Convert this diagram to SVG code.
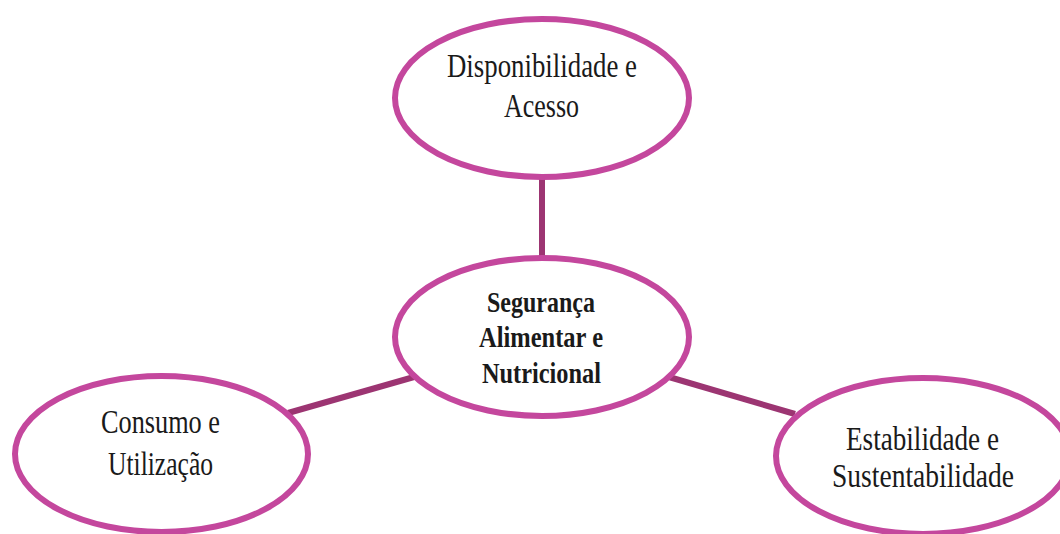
<svg xmlns="http://www.w3.org/2000/svg" width="1060" height="534" viewBox="0 0 1060 534">
<style>
.node ellipse{fill:#fff;stroke:#C4479D;stroke-width:6}
.conn line{stroke:#9C3572;stroke-width:6}
text{font-family:"Liberation Serif","DejaVu Serif",serif;fill:#1a1a1a;text-anchor:middle;font-size:33px}
.b{font-weight:bold;font-size:30px}
</style>
<rect width="1060" height="534" fill="#fff"/>
<g id="connectors" class="conn">
<line x1="542" y1="176" x2="542" y2="259"/>
<line x1="288" y1="413" x2="414" y2="377"/>
<line x1="669" y1="377" x2="795" y2="414"/>
</g>
<g id="n-disponibilidade" class="node">
<ellipse cx="542" cy="98" rx="147" ry="79"/>
<text x="542" y="77" textLength="190" lengthAdjust="spacingAndGlyphs">Disponibilidade e</text>
<text x="541.5" y="117" textLength="75" lengthAdjust="spacingAndGlyphs">Acesso</text>
</g>
<g id="n-seguranca" class="node">
<ellipse cx="542" cy="337" rx="147" ry="79"/>
<text class="b" x="541" y="312" textLength="108" lengthAdjust="spacingAndGlyphs">Segurança</text>
<text class="b" x="541" y="347" textLength="124" lengthAdjust="spacingAndGlyphs">Alimentar e</text>
<text class="b" x="541.5" y="383" textLength="119" lengthAdjust="spacingAndGlyphs">Nutricional</text>
</g>
<g id="n-consumo" class="node">
<ellipse cx="161.5" cy="454" rx="146.5" ry="78"/>
<text x="160.5" y="433" textLength="119" lengthAdjust="spacingAndGlyphs">Consumo e</text>
<text x="160.5" y="475" textLength="105" lengthAdjust="spacingAndGlyphs">Utilização</text>
</g>
<g id="n-estabilidade" class="node">
<ellipse cx="923" cy="456" rx="147" ry="78"/>
<text x="922.5" y="450" textLength="153" lengthAdjust="spacingAndGlyphs">Estabilidade e</text>
<text x="923" y="487" textLength="182" lengthAdjust="spacingAndGlyphs">Sustentabilidade</text>
</g>
</svg>
